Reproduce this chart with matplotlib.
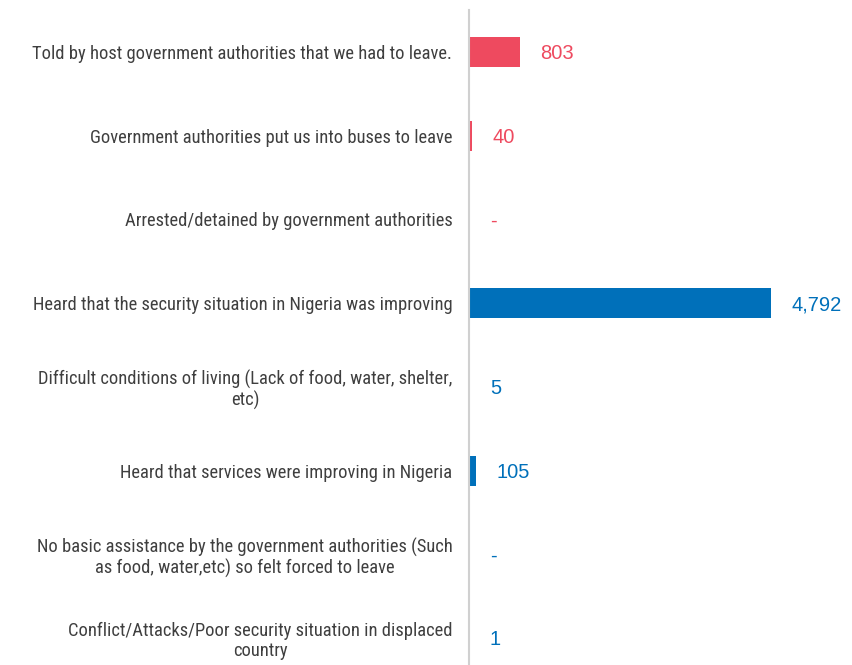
import matplotlib.pyplot as plt
from matplotlib import font_manager

# data
reasons = [
    "Told by host government authorities that we had to leave.",
    "Government authorities put us into buses to leave",
    "Arrested/detained by government authorities",
    "Heard that the security situation in Nigeria was improving",
    "Difficult conditions of living (Lack of food, water, shelter,\netc)",
    "Heard that services were improving in Nigeria",
    "No basic assistance by the government authorities (Such\nas food, water,etc) so felt forced to leave",
    "Conflict/Attacks/Poor security situation in displaced\ncountry",
]
counts = [803, 40, 0, 4792, 5, 105, 0, 1]
groups = ["forced", "forced", "forced", "pull", "push", "pull", "push", "push"]

RED = "#EE4A5F"
BLUE = "#0070BA"
colors = [RED if g == "forced" else BLUE for g in groups]

names = {f.name for f in font_manager.fontManager.ttflist}
label_font = next((n for n in ["Roboto Condensed", "Archivo Narrow", "PT Sans Narrow"]
                   if n in names), "DejaVu Sans")

fig = plt.figure(figsize=(8.52, 6.65), dpi=100)
ax = fig.add_axes([469 / 852, 0.0, 1 - 469 / 852, 1 - 10 / 665])

y = list(range(len(reasons)))
ax.barh(y, counts, height=0.36, color=colors)
ax.set_xlim(0, 383 / (302 / 4792))
ax.set_ylim(7.32, -0.5)

for yi, v, c in zip(y, counts, colors):
    txt = f"{v:,}" if v else "-"
    ax.annotate(txt, (v, yi), xytext=(15, -1), textcoords="offset points",
                ha="left", va="center", color=c, fontsize=14.5,
                family="Liberation Sans")

ax.set_yticks(y)
ax.set_yticklabels(reasons, fontsize=13.3, color="#3f3f3f", family=label_font,
                   multialignment="center", linespacing=1.15)
ax.tick_params(axis="y", length=0, pad=12)
ax.set_xticks([])

for s in ["top", "right", "bottom"]:
    ax.spines[s].set_visible(False)
ax.spines["left"].set_color("#D0D0D0")
ax.spines["left"].set_linewidth(1.5)

fig.savefig("out.png", dpi=100)
